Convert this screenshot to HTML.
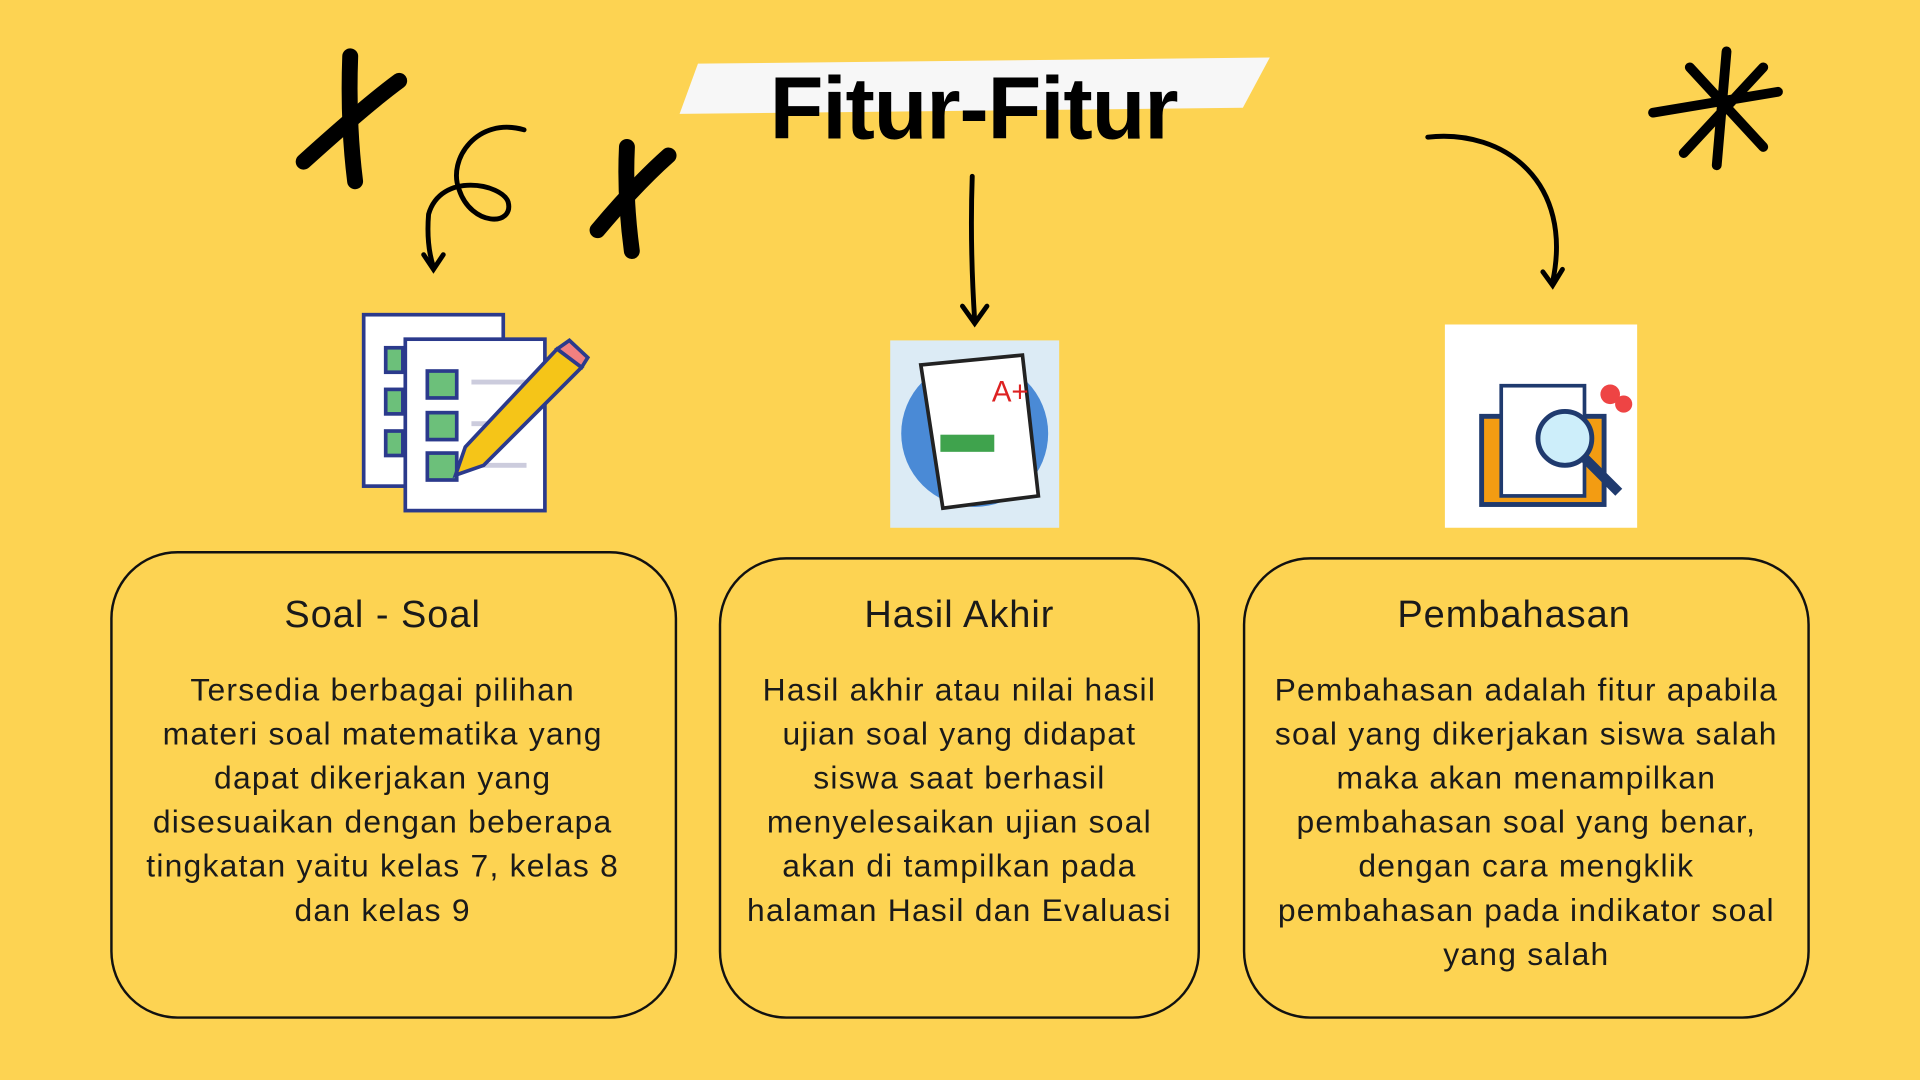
<!DOCTYPE html>
<html><head><meta charset="utf-8"><style>
html,body{margin:0;padding:0;width:1920px;height:1080px;overflow:hidden;background:#FDD352;}
#w{position:absolute;left:0;top:0;width:1568px;height:882px;transform:scale(1.22449);transform-origin:0 0;font-family:"Liberation Sans",sans-serif;}
.box{position:absolute;border:2.5px solid #111;border-radius:55px;box-sizing:border-box;text-align:center;color:#1a1a1a;}
.box h2{margin:0;font-weight:normal;font-size:31px;letter-spacing:0.8px;position:absolute;left:0;right:0;top:32px;}
.box p{margin:0;font-size:26px;letter-spacing:1px;line-height:36px;position:absolute;left:-20px;right:-20px;top:93px;}
.title{position:absolute;left:560px;top:48px;width:470px;text-align:center;font-size:72px;font-weight:bold;color:#000;letter-spacing:-1px;}
</style></head><body><div id="w">
<svg width="1568" height="882" style="position:absolute;left:0;top:0">
<polygon points="570,52 1037,47 1015,88 555,93" fill="#F7F7F7"/>
<g stroke="#000" fill="none" stroke-linecap="round">
<path d="M286,46 Q284,100 290,148" stroke-width="13"/>
<path d="M248,132 Q300,85 326,66" stroke-width="13"/>
<path d="M512,120 Q510,160 516,205" stroke-width="13"/>
<path d="M488,188 Q520,150 546,127" stroke-width="13"/>
<path d="M428,106 C390,95 365,130 375,155 C385,185 420,185 415,165 C410,150 360,140 350,175 Q348,200 354,218" stroke-width="4"/>
<path d="M346,208 L354,220 L362,208" stroke-width="4"/>
<path d="M794,144 Q792,200 796,262" stroke-width="4"/>
<path d="M786,250 L796,264 L806,250" stroke-width="4"/>
<path d="M1166,112 C1230,105 1285,150 1268,230" stroke-width="4"/>
<path d="M1260,222 L1268,233 L1276,220" stroke-width="4"/>
<path d="M1410,42 L1402,135 M1350,92 L1452,75 M1380,55 L1440,120 M1440,55 L1375,125" stroke-width="8"/>
</g>
<rect x="297" y="257" width="114" height="140" fill="#fff" stroke="#2b3a8c" stroke-width="3"/>
<rect x="331" y="277" width="114" height="140" fill="#fff" stroke="#2b3a8c" stroke-width="3"/>
<g fill="#6cc07a" stroke="#2b3a8c" stroke-width="3">
<rect x="315" y="284" width="14" height="20"/><rect x="315" y="318" width="14" height="20"/><rect x="315" y="352" width="14" height="20"/>
<rect x="349" y="303" width="24" height="22"/><rect x="349" y="337" width="24" height="22"/><rect x="349" y="370" width="24" height="22"/></g>
<g stroke="#ccd" stroke-width="4"><line x1="385" y1="312" x2="430" y2="312"/><line x1="385" y1="346" x2="425" y2="346"/><line x1="385" y1="380" x2="430" y2="380"/></g>
<polygon points="455,285 475,300 395,380 372,388 380,365" fill="#f5c518" stroke="#2b3a8c" stroke-width="3"/>
<polygon points="455,285 465,278 480,292 475,300" fill="#f08080" stroke="#2b3a8c" stroke-width="3"/>
<rect x="727" y="278" width="138" height="153" fill="#dcebf5"/>
<circle cx="796" cy="354" r="60" fill="#4a8ad6"/>
<polygon points="752,298 835,290 848,405 770,415" fill="#fff" stroke="#222" stroke-width="3"/>
<rect x="768" y="355" width="44" height="14" fill="#3fa34d"/>
<text x="810" y="328" font-size="24" fill="#d22" font-family="Liberation Sans">A+</text>
<rect x="1180" y="265" width="157" height="166" fill="#fff"/>
<rect x="1210" y="340" width="100" height="72" fill="#f39c12" stroke="#1f3a6e" stroke-width="4"/>
<rect x="1226" y="315" width="68" height="90" fill="#fff" stroke="#1f3a6e" stroke-width="3"/>
<circle cx="1278" cy="358" r="22" fill="#cdeefa" stroke="#1f3a6e" stroke-width="4"/>
<line x1="1294" y1="374" x2="1322" y2="402" stroke="#1f3a6e" stroke-width="8"/>
<circle cx="1315" cy="322" r="8" fill="#e44"/><circle cx="1326" cy="330" r="7" fill="#e44"/>
</svg>
<div class="title">Fitur-Fitur</div>
<div class="box" style="left:90px;top:450px;width:463px;height:382px"><h2 style="right:18px">Soal - Soal</h2><p style="right:-2px">Tersedia berbagai pilihan<br>materi soal matematika yang<br>dapat dikerjakan yang<br>disesuaikan dengan beberapa<br>tingkatan yaitu kelas 7, kelas 8<br>dan kelas 9</p></div>
<div class="box" style="left:587px;top:455px;width:393px;height:377px"><h2 style="top:27px">Hasil Akhir</h2><p style="top:88px">Hasil akhir atau nilai hasil<br>ujian soal yang didapat<br>siswa saat berhasil<br>menyelesaikan ujian soal<br>akan di tampilkan pada<br>halaman Hasil dan Evaluasi</p></div>
<div class="box" style="left:1015px;top:455px;width:463px;height:377px"><h2 style="top:27px;right:20px">Pembahasan</h2><p style="top:88px">Pembahasan adalah fitur apabila<br>soal yang dikerjakan siswa salah<br>maka akan menampilkan<br>pembahasan soal yang benar,<br>dengan cara mengklik<br>pembahasan pada indikator soal<br>yang salah</p></div>
</div></body></html>
